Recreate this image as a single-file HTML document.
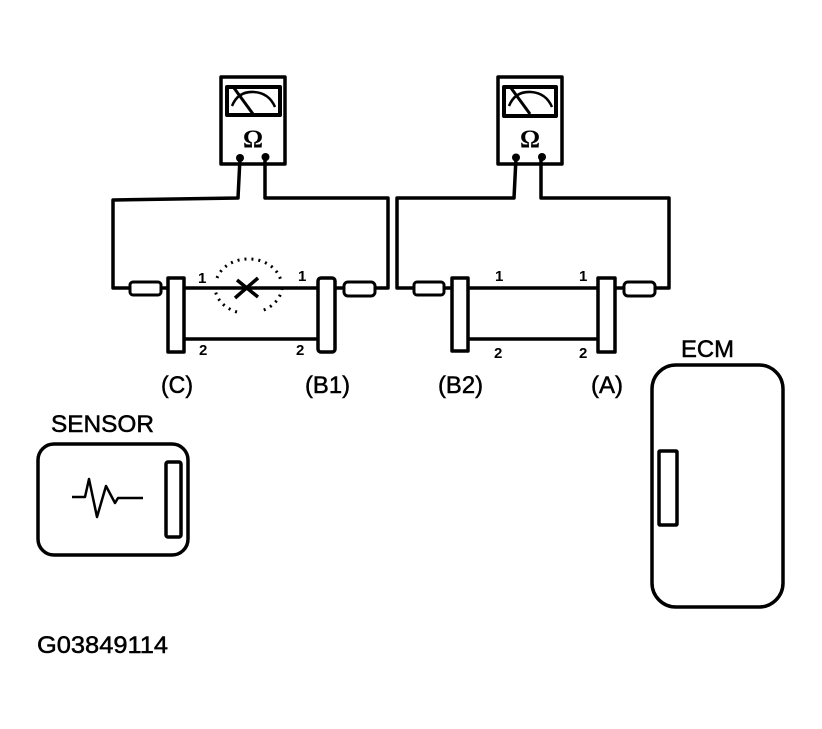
<!DOCTYPE html>
<html><head><meta charset="utf-8"><style>
html,body{margin:0;padding:0;background:#fff}
svg{display:block}
text{font-family:"Liberation Sans",sans-serif;fill:#000;stroke:#000;stroke-width:.5}
.n{font-size:15px;font-weight:bold;stroke:none}
.l{font-size:24px}
</style></head><body>
<svg width="822" height="729" viewBox="0 0 822 729" xmlns="http://www.w3.org/2000/svg">
<g fill="none" stroke="#000" stroke-width="3.500" stroke-linejoin="round">
<!-- left meter -->
<rect x="221" y="77" width="64" height="87"/>
<rect x="227" y="87" width="53" height="28" stroke-width="4"/>
<path d="M232 106Q238 91 254 92Q269 93 275 107" stroke-width="2.500"/>
<path d="M234 88L253 114" stroke-width="3"/>
<!-- left wires -->
<path d="M240 158L238 198L113 200L113 288H130"/>
<path d="M265 158V198H388V288H375"/>
<rect x="130" y="282" width="31" height="13" rx="3" stroke-width="3"/>
<rect x="344" y="282" width="31" height="14" rx="4" stroke-width="3"/>
<path d="M161 288H168M335 288H344"/>
<rect x="168" y="278" width="16" height="74"/>
<rect x="318" y="278" width="17" height="74" rx="3"/>
<path d="M184 288H318M184 339H318"/>
<path d="M217 278A33 27 0 0 1 281 281M282 288A33 27 0 0 1 261 311M237 312A33 27 0 0 1 215 288" stroke-width="3" stroke-dasharray="2 5"/>
<path d="M235 298L258 278M237 280L258 297" stroke-width="3.500"/>
<!-- right meter -->
<rect x="498" y="77" width="64" height="87"/>
<rect x="504" y="87" width="52" height="29" stroke-width="4"/>
<path d="M509 106Q515 91 531 92Q546 93 552 107" stroke-width="2.500"/>
<path d="M511 88L530 114" stroke-width="3"/>
<!-- right wires -->
<path d="M516 158L514 198H397V288H414"/>
<path d="M541 158V198H669V288H656"/>
<rect x="414" y="282" width="30" height="13" rx="3" stroke-width="3"/>
<rect x="624" y="282" width="31" height="14" rx="4" stroke-width="3"/>
<path d="M444 288H452M616 288H624"/>
<rect x="452" y="278" width="16" height="73"/>
<rect x="598" y="278" width="17" height="74"/>
<path d="M468 288H598M468 339H598"/>
<!-- sensor -->
<rect x="38" y="444" width="150" height="111" rx="16"/>
<rect x="166" y="462" width="15" height="75" rx="2"/>
<path d="M72 497H85L89 479L97 517L106 486L115 503L118 498H143" stroke-width="2.500"/>
<!-- ecm -->
<rect x="652" y="365" width="131" height="242" rx="24"/>
<rect x="659" y="451" width="18" height="74" rx="1"/>
</g>
<circle cx="240" cy="158" r="4"/><circle cx="265.500" cy="157" r="4"/>
<circle cx="516" cy="157.500" r="4"/><circle cx="542" cy="157" r="4"/>
<text x="253" y="147" text-anchor="middle" style="font-size:25px;font-weight:bold;stroke:none;font-family:'Liberation Serif',serif">Ω</text>
<text x="530" y="147" text-anchor="middle" style="font-size:25px;font-weight:bold;stroke:none;font-family:'Liberation Serif',serif">Ω</text>
<text class="n" x="198" y="283">1</text>
<text class="n" x="298" y="281">1</text>
<text class="n" x="199" y="355">2</text>
<text class="n" x="296" y="355">2</text>
<text class="n" x="495" y="281">1</text>
<text class="n" x="579" y="281">1</text>
<text class="n" x="494" y="358">2</text>
<text class="n" x="579" y="358">2</text>
<text class="l" x="161" y="393" textLength="32" lengthAdjust="spacingAndGlyphs">(C)</text>
<text class="l" x="305" y="393" textLength="45" lengthAdjust="spacingAndGlyphs">(B1)</text>
<text class="l" x="438" y="393" textLength="45" lengthAdjust="spacingAndGlyphs">(B2)</text>
<text class="l" x="591" y="393" textLength="32" lengthAdjust="spacingAndGlyphs">(A)</text>
<text class="l" x="681" y="357" textLength="53" lengthAdjust="spacingAndGlyphs">ECM</text>
<text class="l" x="51" y="432" textLength="103" lengthAdjust="spacingAndGlyphs">SENSOR</text>
<text class="l" x="37" y="653" textLength="131" lengthAdjust="spacingAndGlyphs">G03849114</text>
</svg>
</body></html>
